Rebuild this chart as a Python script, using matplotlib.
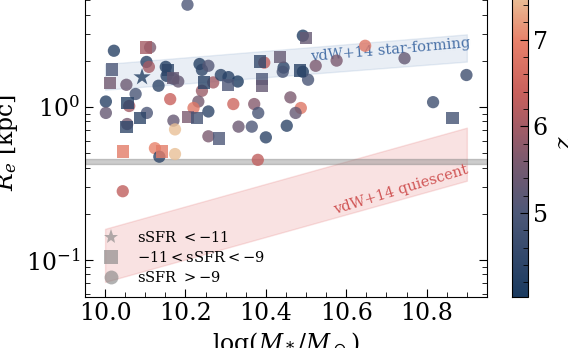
import numpy as np
import matplotlib
matplotlib.use("Agg")
import matplotlib.pyplot as plt
from matplotlib.colors import LinearSegmentedColormap, Normalize
from matplotlib.ticker import MultipleLocator
from matplotlib.lines import Line2D

plt.rcParams["font.family"] = "DejaVu Serif"
plt.rcParams["mathtext.fontset"] = "dejavuserif"

# galaxies with sSFR > -9 (circles)
circ_mass = [10.205, 10.022, 10.112, 10.103, 10.109, 10.053, 10.076, 10.133, 10.151, 10.153,
             10.170, 10.182, 10.162, 10.235, 10.241, 10.257, 10.269, 10.241, 10.232, 10.288,
             10.307, 10.330, 10.396, 10.444, 10.442, 10.002, 10.002, 10.060, 10.104, 10.055,
             10.170, 10.174, 10.220, 10.257, 10.319, 10.371, 10.381, 10.332, 10.365, 10.400,
             10.452, 10.257, 10.124, 10.135, 10.174, 10.380, 10.461, 10.487, 10.474, 10.492,
             10.492, 10.505, 10.524, 10.576, 10.647, 10.745, 10.899, 10.816, 10.044]
circ_re = [4.64, 2.32, 2.44, 1.96, 1.82, 1.39, 1.21, 1.37, 1.82, 1.59,
           1.52, 1.46, 1.12, 1.90, 1.74, 1.85, 1.44, 1.27, 1.08, 1.61,
           1.56, 1.46, 1.94, 1.80, 1.69, 1.08, 0.91, 1.01, 0.91, 0.77,
           0.81, 0.71, 0.98, 0.93, 1.04, 1.04, 0.91, 0.74, 0.74, 0.63,
           0.75, 0.64, 0.535, 0.471, 0.49, 0.449, 1.15, 0.98, 0.91, 2.91,
           1.69, 1.50, 1.85, 2.00, 2.50, 2.07, 1.61, 1.07, 0.28]
circ_z = [5.0, 4.3, 5.6, 4.3, 6.0, 5.4, 4.9, 4.4, 4.2, 4.3,
          5.0, 5.3, 6.4, 4.2, 4.4, 5.1, 6.0, 5.9, 5.5, 4.4,
          4.3, 4.1, 6.3, 4.4, 4.9, 4.3, 5.3, 6.0, 5.0, 5.5,
          5.3, 7.5, 6.8, 4.4, 6.5, 5.7, 4.9, 5.4, 5.0, 4.4,
          4.4, 5.6, 7.0, 4.4, 7.5, 6.3, 5.6, 6.8, 5.3, 4.2,
          4.2, 4.9, 5.6, 5.6, 6.8, 5.3, 4.7, 4.7, 6.3]

# -11 < sSFR < -9 (squares)
sq_mass = [10.102, 10.017, 10.012, 10.156, 10.169, 10.246, 10.305, 10.386, 10.435, 10.390,
           10.390, 10.056, 10.087, 10.053, 10.207, 10.228, 10.284, 10.045, 10.141, 10.485,
           10.500, 10.864]
sq_re = [2.44, 1.75, 1.42, 1.74, 1.54, 1.44, 1.39, 1.97, 2.10, 1.51,
         1.37, 1.06, 0.84, 0.74, 0.86, 0.84, 0.62, 0.51, 0.51, 1.72,
         2.80, 0.84]
sq_z = [6.0, 5.0, 5.5, 4.4, 5.3, 4.3, 5.0, 4.5, 5.3, 5.0,
        5.3, 4.3, 4.4, 4.5, 5.6, 4.8, 5.0, 6.9, 6.9, 4.3,
        5.3, 4.8]

# sSFR < -11 (stars)
star_mass = [10.092]
star_re = [1.56]
star_z = [4.2]

# vdW+14 relations (band edges at the mass limits)
band_mass = [10.0, 10.9]
sf_lo = [1.29, 1.97]
sf_hi = [1.90, 2.97]
q_lo = [0.0715, 0.328]
q_hi = [0.159, 0.729]
ref_lo, ref_hi = 0.425, 0.452

cmap = LinearSegmentedColormap.from_list(
    "zmap",
    [(0.0, "#1a3a5f"), (0.27, "#4d5878"), (0.44, "#7b5a6f"), (0.55, "#a35c66"),
     (0.66, "#c8605c"), (0.83, "#e8816a"), (1.0, "#e9cc9f")])
norm = Normalize(vmin=4.03, vmax=7.6)

fig = plt.figure(figsize=(5.68, 3.48), dpi=100)
ax = fig.add_axes([0.1496, 0.1466, 0.7077, 0.889])
cax = fig.add_axes([0.9014, 0.1466, 0.0282, 0.889])

ax.fill_between(band_mass, sf_lo, sf_hi, facecolor="#4a78b0", alpha=0.12,
                edgecolor="#4a78b0", lw=1, zorder=1)
ax.fill_between(band_mass, q_lo, q_hi, facecolor="#e06060", alpha=0.18,
                edgecolor="#e06060", lw=1, zorder=1)
ax.axhspan(ref_lo, ref_hi, facecolor="gray", edgecolor="gray", alpha=0.4, lw=1, zorder=1)

kw = dict(cmap=cmap, norm=norm, alpha=0.8, edgecolors="none", zorder=3)
sc = ax.scatter(circ_mass, circ_re, c=circ_z, marker="o", s=78, **kw)
ax.scatter(sq_mass, sq_re, c=sq_z, marker="s", s=78, **kw)
ax.scatter(star_mass, star_re, c=star_z, marker="*", s=170, **kw)

ax.text(10.71, 2.36, "vdW+14 star-forming", color="#4a72a8", fontsize=10.5,
        rotation=5, ha="center", va="center", zorder=2)
ax.text(10.735, 0.285, "vdW+14 quiescent", color="#d05555", fontsize=10.5,
        rotation=17, ha="center", va="center", zorder=2)

ax.set_xscale("linear")
ax.set_yscale("log")
ax.set_xlim(9.95, 10.95)
ax.set_ylim(0.057, 6.0)
ax.xaxis.set_major_locator(MultipleLocator(0.2))
ax.xaxis.set_minor_locator(MultipleLocator(0.05))
ax.tick_params(which="both", direction="in", top=True, right=True, labelsize=17)
ax.tick_params(which="major", length=6)
ax.tick_params(which="minor", length=3.5)
ax.set_xlabel(r"$\log(M_*/M_\odot)$", fontsize=17)
ax.set_ylabel(r"$R_e$ [kpc]", fontsize=17)

handles = [
    Line2D([], [], marker="*", ls="none", color="gray", alpha=0.6, markersize=11, markeredgewidth=0),
    Line2D([], [], marker="s", ls="none", color="gray", alpha=0.6, markersize=10, markeredgewidth=0),
    Line2D([], [], marker="o", ls="none", color="gray", alpha=0.6, markersize=10, markeredgewidth=0),
]
labels = [r"sSFR $<-11$", r"$-11<$sSFR$<-9$", r"sSFR $>-9$"]
ax.legend(handles, labels, loc="lower left", frameon=False, fontsize=10.5,
          handletextpad=0.8, labelspacing=0.35, borderaxespad=0.4)

cb = fig.colorbar(sc, cax=cax)
cb.solids.set_alpha(1)
cb.set_ticks([5, 6, 7])
cb.ax.yaxis.set_minor_locator(MultipleLocator(0.2))
cb.ax.tick_params(which="both", direction="in", labelsize=17)
cb.ax.tick_params(which="major", length=6)
cb.ax.tick_params(which="minor", length=3.5)
cb.set_label(r"$z$", fontsize=17)

fig.savefig("out.png", dpi=100)
